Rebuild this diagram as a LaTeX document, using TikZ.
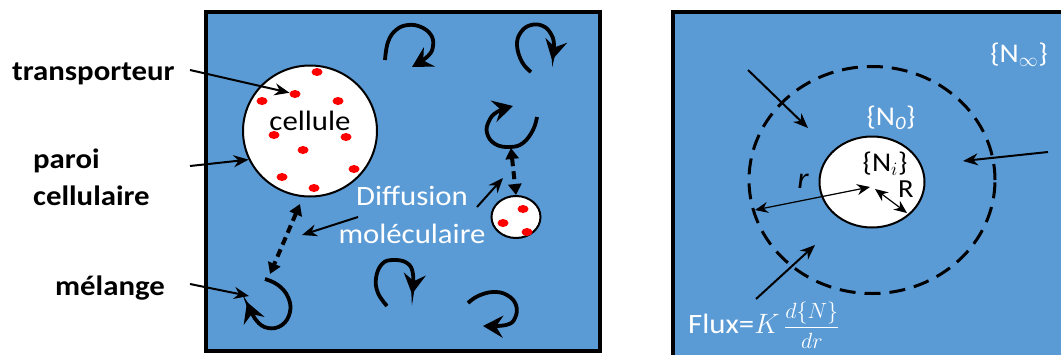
\RequirePackage{fix-cm}
\documentclass[tikz,border=0pt]{standalone}
\usepackage{amsmath}
\usepackage{fontspec}
\setmainfont{Carlito}[FakeStretch=1.1]
\usetikzlibrary{arrows.meta,shapes.geometric}
\definecolor{panelblue}{HTML}{5B9BD5}
\tikzset{
  lab/.style={font=\fontsize{28}{34}\selectfont\bfseries, inner sep=0pt},
  txt/.style={font=\fontsize{28}{34}\selectfont, inner sep=0pt},
  wtxt/.style={txt, text=white},
  dot/.style={ellipse, fill=red, minimum width=11pt, minimum height=8pt, inner sep=0pt},
  ptr/.style={line width=2pt, -{Stealth[length=15pt,width=12pt]}},
  swirl/.style={line width=3.8pt, -{Stealth[length=20pt,width=22pt,inset=7pt]}},
  dashtwo/.style={line width=4pt, dash pattern=on 8pt off 5pt, {Triangle[length=11pt,width=13pt]}-{Triangle[length=11pt,width=13pt]}},
  cellshape/.style={ellipse, draw, fill=white, line width=2pt, inner sep=0pt},
  thintwo/.style={line width=1.2pt, {Stealth[length=13pt,width=11pt]}-{Stealth[length=13pt,width=11pt]}},
  panel/.style={draw, fill=panelblue, line width=3.5pt},
}
\begin{document}
\begin{tikzpicture}[x=1pt,y=-1pt]
\useasboundingbox (0,0) rectangle (1061,354);
\begin{scope}
\clip (0,0) rectangle (1061,354);
% ---------- left panel ----------
\draw[panel] (206,12) rectangle (600,351);
\node[cellshape, minimum width=134pt, minimum height=131pt] (cell) at (310,131) {};
\node[txt] (celltxt) at (310,121) {cellule};
\node[dot] (d1) at (317,72) {};
\node[dot] (d2) at (295,94) {};
\node[dot] (d3) at (262,101) {};
\node[dot] (d4) at (338,101) {};
\node[dot] (d5) at (274,135) {};
\node[dot] (d6) at (346,137) {};
\node[dot] (d7) at (303,150) {};
\node[dot] (d8) at (354,169) {};
\node[dot] (d9) at (282,177) {};
\node[dot] (d10) at (314,188) {};
\node[cellshape, minimum width=49pt, minimum height=42pt] (small) at (516,217) {};
\node[dot] (s1) at (523,209) {};
\node[dot] (s2) at (503,223) {};
\node[dot] (s3) at (527,232) {};
% labels
\node[lab, anchor=base west] (ltrans) at (12,80) {transporteur};
\node[lab, anchor=base west] (lparoi) at (33,168) {paroi};
\node[lab, anchor=base west] (lcell) at (33,205) {cellulaire};
\node[lab, anchor=base west] (lmel) at (55,295) {mélange};
\coordinate (atrans) at (190,70);
\coordinate (aparoi) at (190,166);
\coordinate (amel) at (190,284);
\coordinate (mel) at (249,296);
\draw[ptr] (atrans) -- (d2);
\draw[ptr] (aparoi) -- (cell.205);
\draw[ptr] (amel) -- (mel);
% swirls
\draw[swirl] plot[smooth, tension=0.7] coordinates {(385,60) (388,42) (396,30) (408,25) (421,27) (431,35) (433,46) (428,56) (412,67)};
\draw[swirl] plot[smooth, tension=0.7] coordinates {(531,72) (522,62) (517,45) (521,32) (531,25) (543,26) (551,34) (554,45) (552,60)};
\draw[swirl] plot[smooth, tension=0.7] coordinates {(537,117) (533,130) (523,143) (510,147) (495,144) (487,133) (489,121) (497,112) (513,106)};
\draw[swirl] plot[smooth, tension=0.7] coordinates {(265,279) (278,285) (288,297) (290,312) (282,325) (268,328) (256,320) (247,302)};
\draw[swirl] plot[smooth, tension=0.7] coordinates {(387,306) (378,293) (376,278) (382,264) (393,260) (407,263) (413,274) (412,294)};
\draw[swirl] plot[smooth, tension=0.7] coordinates {(468,303) (478,296) (493,292) (507,295) (516,305) (515,318) (506,325) (483,326)};
% dashed double arrows
\coordinate (da1) at (300,204);
\coordinate (da2) at (270,274);
\coordinate (db1) at (511,148);
\draw[dashtwo] (da1) -- (da2);
\draw[dashtwo] (db1) -- (small.north);
% diffusion
\node[wtxt, anchor=base] (diff1) at (412,205) {Diffusion};
\node[wtxt, anchor=base] (diff2) at (412,243) {moléculaire};
\coordinate (dfa) at (358,217);
\coordinate (dfat) at (302,235);
\coordinate (dfb) at (477,207);
\coordinate (dfbt) at (503,178);
\draw[ptr] (dfa) -- (dfat);
\draw[ptr] (dfb) -- (dfbt);
% ---------- right panel ----------
\draw[panel] (673,12) rectangle (1075,370);
\node[ellipse, draw, line width=3pt, dash pattern=on 16pt off 9pt, minimum width=246pt, minimum height=227pt, inner sep=0pt] (outer) at (872,180) {};
\node[cellshape, minimum width=105pt, minimum height=91pt] (inner) at (872,182) {};
\node[txt, text=white, font=\fontsize{27}{32}\selectfont] (ninf) at (1019,55) {\{N$_{\infty}$\}};
\node[txt, text=white, font=\fontsize{27}{32}\selectfont] (nzero) at (891,118) {\{N\textsubscript{\itshape 0}\}};
\node[txt, font=\fontsize{27}{32}\selectfont] (ni) at (885,164) {\{N$_{i}$\}};
\node[txt, font=\fontsize{30}{34}\selectfont\itshape] (rlab) at (803,181) {r};
\node[txt, font=\fontsize{26}{30}\selectfont] (Rlab) at (906,189) {R};
\coordinate (ra) at (755,210);
\coordinate (rb) at (870,187);
\coordinate (Ra) at (875,189);
\coordinate (Rb) at (907,213);
\draw[thintwo] (ra) -- (rb);
\draw[thintwo] (Ra) -- (Rb);
\coordinate (i1a) at (748,70);
\coordinate (i1b) at (808,128);
\coordinate (i2a) at (1048,152);
\coordinate (i2b) at (963,161);
\coordinate (i3a) at (756,299);
\coordinate (i3b) at (815,245);
\draw[ptr] (i1a) -- (i1b);
\draw[ptr] (i2a) -- (i2b);
\draw[ptr] (i3a) -- (i3b);
\node[txt, text=white, anchor=base west] (flux) at (688,333) {Flux=$K$\,{\fontsize{22}{26}\selectfont$\dfrac{d\{N\}}{dr}$}};
\end{scope}
\end{tikzpicture}
\end{document}
